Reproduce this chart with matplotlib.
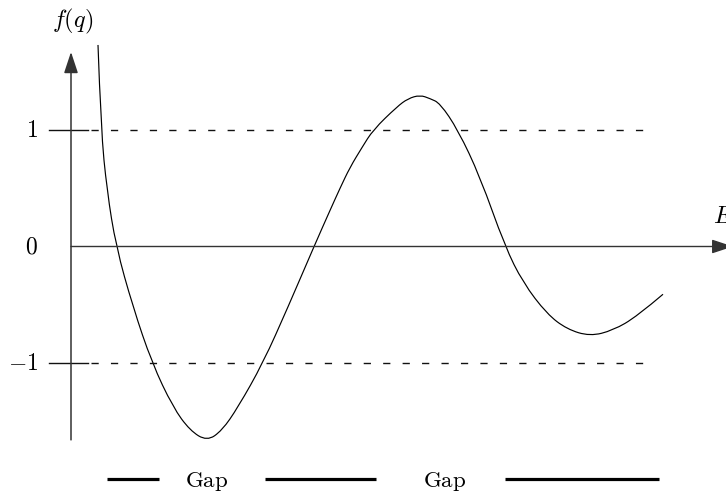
import matplotlib
matplotlib.use("Agg")
import matplotlib.pyplot as plt
from matplotlib.path import Path
from matplotlib.patches import PathPatch

# curve f(q) (E in arbitrary units, f dimensionless)
curve_E = [0.27, 0.30, 0.36, 0.45, 0.62, 0.81, 1.02, 1.19, 1.36, 1.51, 1.67,
           1.92, 2.17, 2.43, 2.59, 2.69, 2.79, 2.91, 3.02, 3.26, 3.37, 3.49,
           3.59, 3.69, 3.87, 4.09, 4.34, 4.52, 4.76, 4.96, 5.19, 5.42, 5.66,
           5.92]
curve_f = [1.73, 1.00, 0.48, 0.00, -0.52, -1.00, -1.38, -1.58, -1.67, -1.58,
           -1.38, -1.00, -0.52, 0.00, 0.31, 0.50, 0.68, 0.85, 1.00, 1.20, 1.27,
           1.30, 1.27, 1.23, 1.00, 0.60, 0.00, -0.31, -0.58, -0.71, -0.77,
           -0.72, -0.60, -0.41]

levels = [1, -1]
level_end = 5.72
tick_vals = [1, 0, -1]
tick_labels = [r"$1$", r"$0$", r"$-1$"]

# allowed bands (thick bars) and the gaps between them
band_starts = [0.36, 1.94, 4.34]
band_ends = [0.88, 3.05, 5.88]
gap_centers = [1.36, 3.74]

plt.rcParams["mathtext.fontset"] = "cm"
plt.rcParams["lines.scale_dashes"] = False

fig = plt.figure(figsize=(7.26, 4.93), dpi=100)
ax = fig.add_axes([0, 0, 1, 1])
ax.set_xlim(-0.71, 6.55)
ax.set_ylim(-2.116, 2.116)
ax.axis("off")

axis_col = "#333333"
arrow = "-|>,head_length=1.3,head_width=0.43"

# axes with arrow heads
ax.annotate("", xy=(0, 1.67), xytext=(0, -1.66),
            arrowprops=dict(arrowstyle=arrow, lw=1.1, color=axis_col,
                            shrinkA=0, shrinkB=0, mutation_scale=10))
ax.annotate("", xy=(6.62, 0), xytext=(0, 0), annotation_clip=False,
            arrowprops=dict(arrowstyle=arrow, lw=1.0, color=axis_col,
                            shrinkA=0, shrinkB=0, mutation_scale=10))

# +-1 levels: short solid tick, then dashes
for lv in levels:
    ax.plot([-0.22, 0.17], [lv, lv], color="#111111", lw=1.0)
    ax.plot([0.198, level_end], [lv, lv], color="#111111", lw=1.0,
            dashes=(5.2, 8.8))

for v, lab in zip(tick_vals, tick_labels):
    ax.text(-0.33, v, lab, ha="right", va="center", fontsize=17)

ax.text(0.02, 1.93, r"$f(q)$", ha="center", va="center", fontsize=17.5)
ax.text(6.42, 0.20, r"$E$", ha="left", va="baseline", fontsize=17.5)

# smooth the read points: quadratic segments through the midpoints
pts = list(zip(curve_E, curve_f))
verts = [pts[0]]
codes = [Path.MOVETO]
for i in range(1, len(pts) - 1):
    end = pts[-1] if i + 1 == len(pts) - 1 else (
        (pts[i][0] + pts[i + 1][0]) / 2, (pts[i][1] + pts[i + 1][1]) / 2)
    verts += [pts[i], end]
    codes += [Path.CURVE3, Path.CURVE3]
ax.add_patch(PathPatch(Path(verts, codes), facecolor="none",
                       edgecolor="black", lw=0.85))

for s, e in zip(band_starts, band_ends):
    ax.plot([s, e], [-2.0, -2.0], color="black", lw=2.3, solid_capstyle="butt")
for c in gap_centers:
    ax.text(c, -2.065, r"$\mathrm{Gap}$", ha="center", va="baseline",
            fontsize=16.5)

fig.savefig("out.png", dpi=100)
